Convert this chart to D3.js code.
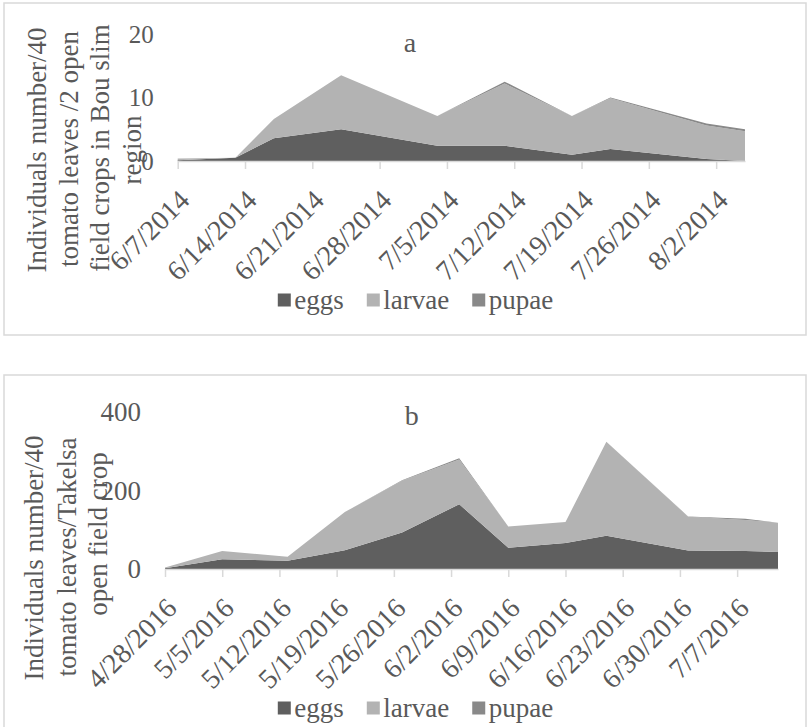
<!DOCTYPE html>
<html>
<head>
<meta charset="utf-8">
<script src="https://cdn.jsdelivr.net/npm/d3@7"></script>
<style>
  body { margin: 0; background: #fff; }
  svg { display: block; }
  text { font-family: "Liberation Serif", "Times New Roman", serif; fill: #595959; }
</style>
</head>
<body>
<svg id="chart" width="812" height="727"></svg>
<script>
// ---- data ----
// panel a : Bou slim 2014
var datesA  = ["6/7/2014", "6/13/2014", "6/17/2014", "6/24/2014", "7/4/2014", "7/11/2014", "7/18/2014", "7/22/2014", "8/1/2014", "8/5/2014"];
var eggsA   = [0.1, 0.5, 3.6, 5.0, 2.4, 2.4, 1.0, 1.9, 0.3, 0.0];
var larvaeA = [0.3, 0.0, 3.0, 8.5, 4.7, 9.8, 6.1, 8.0, 5.3, 4.7];
var pupaeA  = [0, 0, 0, 0, 0, 0.3, 0, 0.1, 0.3, 0.3];
var xTicksA = ["6/7/2014", "6/14/2014", "6/21/2014", "6/28/2014", "7/5/2014", "7/12/2014", "7/19/2014", "7/26/2014", "8/2/2014"];
var yTicksA = [0, 10, 20];
var titleA  = ["Individuals number/40", "tomato leaves /2 open", "field crops in Bou slim", "region"];

// panel b : Takelsa 2016
var datesB  = ["4/28/2016", "5/5/2016", "5/13/2016", "5/20/2016", "5/27/2016", "6/3/2016", "6/9/2016", "6/16/2016", "6/21/2016", "7/1/2016", "7/8/2016", "7/12/2016"];
var eggsB   = [2, 25, 21, 48, 93, 165, 54, 66, 85, 47, 46, 43];
var larvaeB = [2, 21, 10, 97, 132, 114, 54, 54, 239, 86, 79, 75];
var pupaeB  = [0, 0, 0, 0, 1, 3, 0, 0, 0, 1, 3, 0];
var xTicksB = ["4/28/2016", "5/5/2016", "5/12/2016", "5/19/2016", "5/26/2016", "6/2/2016", "6/9/2016", "6/16/2016", "6/23/2016", "6/30/2016", "7/7/2016"];
var yTicksB = [0, 200, 400];
var titleB  = ["Individuals number/40", "tomato leaves/Takelsa", "open field crop"];

var keys   = ["eggs", "larvae", "pupae"];
var colors = {eggs: "#5f5f5f", larvae: "#b3b3b3", pupae: "#898989"};

var parse = d3.timeParse("%m/%d/%Y");
var svg = d3.select("#chart");

function drawPanel(p) {
  var g = svg.append("g");

  // frame
  g.append("rect")
    .attr("x", p.box[0]).attr("y", p.box[1])
    .attr("width", p.box[2]).attr("height", p.box[3])
    .attr("fill", "none").attr("stroke", "#d9d9d9").attr("stroke-width", 1.5);

  var rows = p.dates.map(function(d, i) {
    return {date: parse(d), eggs: p.eggs[i], larvae: p.larvae[i], pupae: p.pupae[i]};
  });

  var x = d3.scaleTime()
    .domain([rows[0].date, rows[rows.length - 1].date])
    .range(p.xRange);
  var y = d3.scaleLinear().domain([0, p.yMax]).range(p.yRange);

  var series = d3.stack().keys(keys)(rows);
  var area = d3.area()
    .x(function(d) { return x(d.data.date); })
    .y0(function(d) { return y(d[0]); })
    .y1(function(d) { return y(d[1]); });

  g.selectAll(".layer")
    .data(series)
    .enter().append("path")
      .attr("class", "layer")
      .attr("fill", function(d) { return colors[d.key]; })
      .attr("d", area);

  // x axis
  var xAxis = g.append("g")
    .attr("transform", "translate(0," + p.yRange[0] + ")")
    .call(d3.axisBottom(x)
      .tickValues(p.xTicks.map(parse))
      .tickFormat(d3.timeFormat("%-m/%-d/%Y"))
      .tickSize(8)
      .tickSizeOuter(0));
  xAxis.attr("font-family", null).attr("font-size", null);
  xAxis.select(".domain").attr("stroke", "#d9d9d9").attr("stroke-width", 1.5);
  xAxis.selectAll(".tick line").attr("stroke", "#d9d9d9").attr("stroke-width", 1.5);
  xAxis.selectAll(".tick text")
    .attr("x", 0).attr("y", 0).attr("dy", "0.35em")
    .attr("text-anchor", "end")
    .attr("transform", "translate(6,34) rotate(-45)")
    .style("font-size", "28px")
    .attr("fill", "#595959");

  // y axis
  var yAxis = g.append("g")
    .attr("transform", "translate(" + p.xRange[0] + ",0)")
    .call(d3.axisLeft(y).tickValues(p.yTicks).tickSize(0).tickPadding(24));
  yAxis.attr("font-family", null).attr("font-size", null);
  yAxis.select(".domain").remove();
  yAxis.selectAll(".tick text")
    .style("font-size", p.yTickSize)
    .attr("fill", "#595959");

  // chart letter
  g.append("text")
    .attr("x", p.letterPos[0]).attr("y", p.letterPos[1])
    .attr("text-anchor", "middle")
    .style("font-size", "28px")
    .text(p.letter);

  // y title, one line each
  p.title.forEach(function(t, i) {
    g.append("text")
      .attr("transform", "translate(" + p.titleX[i] + "," + p.titleY[i] + ") rotate(-90)")
      .attr("text-anchor", "middle")
      .attr("dominant-baseline", "central")
      .style("font-size", "27px")
      .text(t);
  });

  // legend
  var leg = g.append("g").attr("transform", "translate(0," + p.legendY + ")");
  var items = leg.selectAll(".item").data(keys).enter().append("g").attr("class", "item");
  items.append("rect")
    .attr("x", 0).attr("y", -6.5).attr("width", 13).attr("height", 13)
    .attr("fill", function(d) { return colors[d]; });
  items.append("text")
    .attr("x", 16.5).attr("dy", "0.35em")
    .style("font-size", "27px")
    .text(function(d) { return d; });
  var pos = 0, offsets = [];
  items.each(function() {
    offsets.push(pos);
    pos += 16.5 + this.querySelector("text").getComputedTextLength() + 23;
  });
  var total = pos - 23;
  var start = p.legendCx - total / 2;
  items.attr("transform", function(d, i) { return "translate(" + (start + offsets[i]) + ",0)"; });
}

drawPanel({
  box: [4, 3, 802, 332],
  dates: datesA, eggs: eggsA, larvae: larvaeA, pupae: pupaeA,
  xTicks: xTicksA, yTicks: yTicksA, yMax: 20, yTickSize: "25px",
  xRange: [177.7, 745], yRange: [161, 34],
  letter: "a", letterPos: [410, 52],
  title: titleA, titleX: [37, 69, 100, 132], titleY: [150, 149, 148, 150],
  legendY: 300, legendCx: 415.5
});

drawPanel({
  box: [4, 375, 802, 370],
  dates: datesB, eggs: eggsB, larvae: larvaeB, pupae: pupaeB,
  xTicks: xTicksB, yTicks: yTicksB, yMax: 400, yTickSize: "27px",
  xRange: [165, 778], yRange: [569, 412],
  letter: "b", letterPos: [411.7, 425],
  title: titleB, titleX: [34, 67, 98], titleY: [558, 557, 534],
  legendY: 708, legendCx: 415.5
});
</script>
</body>
</html>
